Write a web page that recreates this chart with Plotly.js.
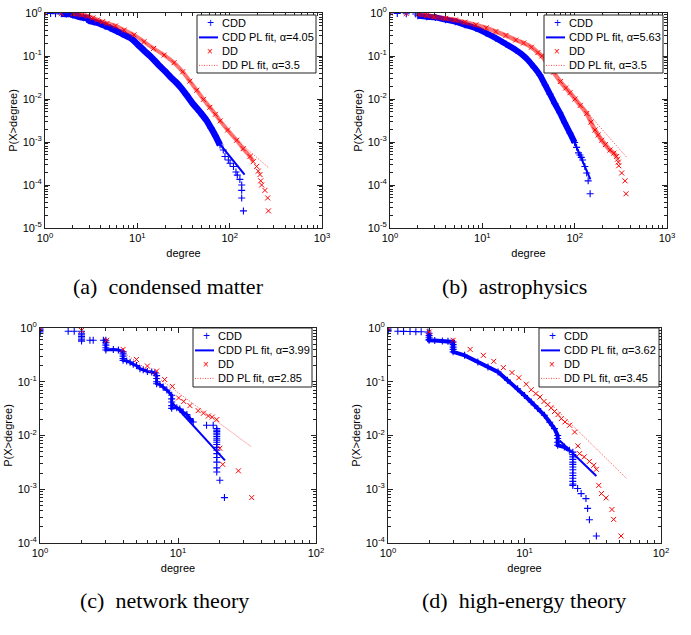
<!DOCTYPE html>
<html><head><meta charset="utf-8">
<script src="https://cdn.plot.ly/plotly-3.0.1.min.js"></script>
<style>html,body{margin:0;padding:0;background:#fff}#chart{width:691px;height:635px}</style>
</head><body><div id="chart"></div>
<script>
// ---------- (a) condensed matter ----------
const cmCddX = [1,1.15,1.3,1.5,1.7,1.9,2,2.3,2.6,2.9,3,3.4,4,4.5,5.1,6,7,8.5,10,12,14,17,20,23,26,29,34,40,48,56,63,70,78.6,85.3,89,96.7,101,110,117,121,129,135,135,135,141];
const cmCddY = [1,0.97,0.96,0.955,0.95,0.945,0.9,0.83,0.78,0.75,0.66,0.62,0.56,0.5,0.45,0.38,0.32,0.26,0.19,0.13,0.096,0.062,0.044,0.032,0.025,0.0194,0.0125,0.0078,0.0049,0.0032,0.0021,0.0014,8.5e-4,6.5e-4,4.6e-4,3.8e-4,3.2e-4,2.7e-4,2.0e-4,1.7e-4,1.35e-4,1.0e-4,7.5e-5,5e-5,2.5e-5];
const cmDdX = [1,1.5,2,2.5,2.9,3.3,3.7,4.2,4.7,5.8,7.2,9.2,11.8,15,19.5,25,31,37,44,52,61,70,79,95,119,140,166,180,196,204,213,217,222,241,258,263];
const cmDdY = [1,0.97,0.95,0.9,0.85,0.77,0.69,0.63,0.575,0.5,0.40,0.31,0.215,0.15,0.105,0.07,0.043,0.026,0.016,0.0098,0.0064,0.0044,0.0031,0.0019,0.0011,7e-4,4.6e-4,3.5e-4,2.7e-4,2.1e-4,1.75e-4,1.25e-4,1e-4,7.5e-5,5e-5,2.5e-5];
const cmCddFitX = [75, 145], cmCddFitY = [1.0e-3, 1.75e-4];
const cmDdFitX = [100, 265], cmDdFitY = [1.55e-3, 2.5e-4];
const cmAlpha = ['4.05', '3.5'];

// ---------- (b) astrophysics ----------
const apCddX = [1,1.2,1.5,1.9,2,2.5,3.1,4,5.1,6.5,8.5,11,14,18,23,27,31,36,42,48,54,61,69,78,89,100,105,110,114,118,122,129,135,140,147];
const apCddY = [1,0.97,0.96,0.95,0.86,0.82,0.79,0.7,0.63,0.53,0.44,0.34,0.26,0.19,0.138,0.108,0.082,0.056,0.036,0.021,0.013,0.0078,0.0048,0.0028,0.0016,9.7e-4,7.5e-4,5.6e-4,5e-4,4.4e-4,3.8e-4,2.7e-4,1.9e-4,1.25e-4,6.25e-5];
const apDdX = [1,1.5,2,2.5,3,4,5.1,6.5,8.5,11,14,18,23,28,34,40,44,52,59,70,80,89,101,115,135,150,166,180,196,215,241,265,285,292,297,300,323,351,360];
const apDdY = [1,0.97,0.95,0.88,0.82,0.75,0.69,0.61,0.53,0.45,0.37,0.30,0.235,0.2,0.16,0.12,0.1,0.062,0.042,0.0255,0.018,0.014,0.01,0.0071,0.0046,0.0029,0.0019,0.00146,0.0011,8.7e-4,6.5e-4,5.5e-4,4.6e-4,4e-4,3.4e-4,2.8e-4,1.9e-4,1.25e-4,6.25e-5];
const apCddFitX = [100, 148], apCddFitY = [9.5e-4, 1.35e-4];
const apDdFitX = [100, 366], apDdFitY = [0.0105, 4.4e-4];
const apAlpha = ['5.63', '3.5'];

// ---------- (c) network theory ----------
const ntCddX = [1,1,1,1,1,1.6,1.77,2,2,2,2,2,2,2,2.3,2.43,2.88,3,3,3,3,3,3.4,3.7,4,4,4,4,4,4.25,4.5,4.74,5.0,5.3,5.6,6,6.45,6.8,7,7,7,7,7.4,7.8,8.3,9,9,9,9,9,9.8,10.3,10.9,11.6,12.2,12.9,16.1,18,19.1,19.1,19.1,19.1,19.1,19.1,19.1,19.1,19.1,19.1,19.1,19.1,19.1,19.1,19.1,19.1,19.1,20.1,21.7];
const ntCddY = [1,0.95,0.9,0.85,0.8,0.87,0.87,0.87,0.8,0.75,0.7,0.65,0.6,0.57,0.59,0.59,0.59,0.59,0.53,0.48,0.43,0.39,0.40,0.39,0.36,0.33,0.3,0.27,0.25,0.243,0.23,0.211,0.2,0.175,0.168,0.155,0.152,0.146,0.13,0.115,0.1,0.092,0.0885,0.08,0.07,0.056,0.048,0.042,0.036,0.032,0.033,0.031,0.027,0.0245,0.0206,0.0178,0.0155,0.0155,0.0134,0.0125,0.0118,0.011,0.0103,0.0096,0.0089,0.0082,0.0075,0.0068,0.006,0.0053,0.0046,0.0039,0.0032,0.0025,0.0021,0.00147,0.0007];
const ntDdX = [1,2,3.04,4.0,5.0,6.0,7.0,8.0,9.1,10.1,11.0,12.2,14.0,15.3,16.6,17.7,19.1,20.1,21.1,27.4,34.2];
const ntDdY = [1,0.9,0.59,0.40,0.26,0.196,0.158,0.11,0.082,0.05,0.043,0.036,0.029,0.026,0.023,0.022,0.0198,0.0058,0.0029,0.0022,0.0007];
const ntCddFitX = [9.0, 21.9], ntCddFitY = [0.042, 3.45e-3];
const ntDdFitX = [4.0, 34.2], ntDdFitY = [0.36, 6.1e-3];
const ntAlpha = ['3.99', '2.85'];

// ---------- (d) high-energy theory ----------
const heCddX = [1,1,1,1,1.18,1.3,1.45,1.6,1.75,1.96,2,2,2,2,2,2.2,2.5,2.75,3,3,3,3,3,3.64,4.55,5.4,6.4,7.5,8.9,10,11.2,12.5,14,15.3,16.6,17.5,17.5,17.5,17.5,19.6,21.3,22.6,22.6,22.6,22.6,22.6,22.6,22.6,22.6,22.6,22.6,22.6,22.6,22.6,22.6,24.5,26,28.2,29,29.9,33.6];
const heCddY = [1,0.95,0.9,0.87,0.87,0.865,0.86,0.855,0.85,0.84,0.8,0.72,0.66,0.61,0.59,0.585,0.575,0.565,0.55,0.49,0.44,0.4,0.36,0.31,0.233,0.188,0.152,0.107,0.074,0.0555,0.042,0.0318,0.0238,0.0176,0.0134,0.01,0.0088,0.0075,0.0066,0.0061,0.0053,0.0049,0.0044,0.004,0.0036,0.0032,0.0029,0.0026,0.0023,0.002,0.0018,0.0016,0.0014,0.00125,0.00118,0.00103,0.00083,0.00067,0.00044,0.00027,0.000135];
const heDdX = [1,2.0,3.0,4.0,5.0,5.95,7.0,8.1,9.1,10.3,11.2,12.1,13.0,13.9,14.8,15.7,16.6,17.6,18.6,19.8,21.4,23.3,24.6,25.3,27.4,29.9,32.2,33.6,35,36.6,39.6,43.7,45,51];
const heDdY = [1,0.84,0.59,0.40,0.31,0.24,0.183,0.148,0.119,0.09,0.071,0.06,0.052,0.043,0.0376,0.0325,0.028,0.0245,0.0206,0.0179,0.0155,0.0116,0.0064,0.0046,0.004,0.0033,0.0028,0.00235,0.00118,0.00083,0.00069,0.00042,0.000275,0.000135];
const heCddFitX = [18.1, 33.6], heCddFitY = [8.1e-3, 1.77e-3];
const heDdFitX = [16, 56], heDdFitY = [0.036, 1.58e-3];
const heAlpha = ['3.62', '3.45'];

// ---------- labels ----------
const captions = ['(a)\u00A0\u00A0condensed matter', '(b)\u00A0\u00A0astrophysics', '(c)\u00A0\u00A0network theory', '(d)\u00A0\u00A0high-energy theory'];
const xTickVals3 = [1, 10, 100, 1000];
const xTickText3 = ['10<sup>0</sup>', '10<sup>1</sup>', '10<sup>2</sup>', '10<sup>3</sup>'];
const xTickVals2 = [1, 10, 100];
const xTickText2 = ['10<sup>0</sup>', '10<sup>1</sup>', '10<sup>2</sup>'];
const yTickVals5 = [1e-5, 1e-4, 1e-3, 1e-2, 1e-1, 1];
const yTickText5 = ['10<sup>-5</sup>', '10<sup>-4</sup>', '10<sup>-3</sup>', '10<sup>-2</sup>', '10<sup>-1</sup>', '10<sup>0</sup>'];
const yTickVals4 = [1e-4, 1e-3, 1e-2, 1e-1, 1];
const yTickText4 = ['10<sup>-4</sup>', '10<sup>-3</sup>', '10<sup>-2</sup>', '10<sup>-1</sup>', '10<sup>0</sup>'];
const xTitle = 'degree', yTitle = 'P(X>degree)';
const legendNames = ['CDD', 'CDD PL fit, \u03b1=', 'DD', 'DD PL fit, \u03b1='];

// ---------- build ----------
const W = 691, H = 635;
const FONT = 'Liberation Sans, Arial, Helvetica, sans-serif';
const BLUE = '#0000ff', RED = '#ff0000', INK = '#222';
const DOTRED = 'rgba(255,40,40,0.85)';
const X = px => px / W, Y = py => 1 - py / H;

function minorVals(lo, hi) {
  const v = [];
  for (let e = lo; e < hi; e++) for (let k = 2; k <= 9; k++) v.push(k * Math.pow(10, e));
  return v;
}
function pick(xs, ys, minX, maxX) {
  const bx = [], by = [];
  xs.forEach((v, i) => { if (v >= minX && v <= maxX) { bx.push(v); by.push(ys[i]); } });
  return [bx, by];
}

// band = [minX, maxX, width, smooth]
const panels = [
  {s: '', cdd: [cmCddX, cmCddY], dd: [cmDdX, cmDdY], cf: [cmCddFitX, cmCddFitY], df: [cmDdFitX, cmDdFitY], a: cmAlpha,
   bandB: [1.5, 78.6, 6.5, true], bandR: [2, 180, 4, true], px: [45, 322], py: [13, 228], xr: [0, 3], yr: [-5, 0],
   xt: [xTickVals3, xTickText3], yt: [yTickVals5, yTickText5], leg: [197, 15, 316, 73]},
  {s: '2', cdd: [apCddX, apCddY], dd: [apDdX, apDdY], cf: [apCddFitX, apCddFitY], df: [apDdFitX, apDdFitY], a: apAlpha,
   bandB: [2, 100, 6, true], bandR: [2, 285, 4.5, true], px: [390, 667], py: [13, 228], xr: [0, 3], yr: [-5, 0],
   xt: [xTickVals3, xTickText3], yt: [yTickVals5, yTickText5], leg: [544, 15, 663, 73]},
  {s: '3', cdd: [ntCddX, ntCddY], dd: [ntDdX, ntDdY], cf: [ntCddFitX, ntCddFitY], df: [ntDdFitX, ntDdFitY], a: ntAlpha,
   bandB: [2.88, 12.9, 3, false], bandR: null, px: [40, 316], py: [328, 543], xr: [0, 2], yr: [-4, 0],
   xt: [xTickVals2, xTickText2], yt: [yTickVals4, yTickText4], leg: [193, 328, 312, 387]},
  {s: '4', cdd: [heCddX, heCddY], dd: [heDdX, heDdY], cf: [heCddFitX, heCddFitY], df: [heDdFitX, heDdFitY], a: heAlpha,
   bandB: [2, 21.3, 4, false], bandR: null, px: [388, 661], py: [328, 543], xr: [0, 2], yr: [-4, 0],
   xt: [xTickVals2, xTickText2], yt: [yTickVals4, yTickText4], leg: [539, 328, 659, 387]}
];

const data = [];
const layout = {
  width: W, height: H, margin: {l: 0, r: 0, t: 0, b: 0},
  paper_bgcolor: '#fff', plot_bgcolor: '#fff', showlegend: false,
  font: {family: FONT, size: 11, color: '#000'},
  annotations: [], shapes: []
};

function bandTrace(common, xs, ys, b, color) {
  const [bx, by] = pick(xs, ys, b[0], b[1]);
  const line = {color: color, width: b[2]};
  if (b[3]) { line.shape = 'spline'; line.smoothing = 0.9; }
  return Object.assign({}, common, {x: bx, y: by, mode: 'lines', line: line});
}

panels.forEach((p, i) => {
  const xa = 'x' + p.s, ya = 'y' + p.s;
  const common = {xaxis: xa, yaxis: ya, type: 'scatter', hoverinfo: 'skip', showlegend: false};
  if (p.bandB) data.push(bandTrace(common, p.cdd[0], p.cdd[1], p.bandB, BLUE));
  data.push(Object.assign({}, common, {x: p.cdd[0], y: p.cdd[1], mode: 'markers', name: legendNames[0],
    marker: {symbol: 'cross-thin-open', size: 5, color: BLUE, line: {color: BLUE, width: 1.1}}}));
  data.push(Object.assign({}, common, {x: p.cf[0], y: p.cf[1], mode: 'lines', name: legendNames[1] + p.a[0],
    line: {color: BLUE, width: 2}}));
  if (p.bandR) data.push(bandTrace(common, p.dd[0], p.dd[1], p.bandR, 'rgba(255,0,0,0.55)'));
  data.push(Object.assign({}, common, {x: p.dd[0], y: p.dd[1], mode: 'markers', name: legendNames[2],
    marker: {symbol: 'x-thin-open', size: 5, color: RED, line: {color: RED, width: 1}}}));
  data.push(Object.assign({}, common, {x: p.df[0], y: p.df[1], mode: 'lines', name: legendNames[3] + p.a[1],
    line: {color: DOTRED, width: 1, dash: '1px,1.5px'}}));

  const axBase = {type: 'log', showgrid: false, zeroline: false, showline: true, linecolor: INK, linewidth: 1,
    mirror: 'ticks', ticks: 'inside', ticklen: 5, tickcolor: INK, tickwidth: 1,
    tickfont: {family: FONT, size: 11, color: '#000'}, tickmode: 'array'};
  layout['xaxis' + p.s] = Object.assign({}, axBase, {
    domain: [X(p.px[0]), X(p.px[1])], range: p.xr, anchor: ya,
    tickvals: p.xt[0], ticktext: p.xt[1],
    minor: {tickmode: 'array', tickvals: minorVals(p.xr[0], p.xr[1]), ticks: 'inside', ticklen: 3, tickcolor: INK},
    title: {text: xTitle, font: {family: FONT, size: 11, color: '#000'}, standoff: 6}
  });
  layout['yaxis' + p.s] = Object.assign({}, axBase, {
    domain: [Y(p.py[1]), Y(p.py[0])], range: p.yr, anchor: xa,
    tickvals: p.yt[0], ticktext: p.yt[1],
    minor: {tickmode: 'array', tickvals: minorVals(p.yr[0], p.yr[1]), ticks: 'inside', ticklen: 3, tickcolor: INK},
    title: {text: yTitle, font: {family: FONT, size: 11, color: '#000'}, standoff: 2}
  });

  // legend box (drawn as shapes + text)
  const [l, t, r, b] = p.leg;
  layout.shapes.push({type: 'rect', xref: 'paper', yref: 'paper', x0: X(l), x1: X(r), y0: Y(b), y1: Y(t),
    fillcolor: '#fff', line: {color: INK, width: 1}, layer: 'above'});
  const rows = [t + 8.4, t + 22.4, t + 36.4, t + 50.4];
  const names = [legendNames[0], legendNames[1] + p.a[0], legendNames[2], legendNames[3] + p.a[1]];
  layout.shapes.push({type: 'line', xref: 'paper', yref: 'paper', x0: X(l + 2), x1: X(l + 21), y0: Y(rows[1]), y1: Y(rows[1]),
    line: {color: BLUE, width: 2}, layer: 'above'});
  layout.shapes.push({type: 'line', xref: 'paper', yref: 'paper', x0: X(l + 2), x1: X(l + 21), y0: Y(rows[3]), y1: Y(rows[3]),
    line: {color: DOTRED, width: 1, dash: '1px,1.5px'}, layer: 'above'});
  layout.annotations.push({text: '+', xref: 'paper', yref: 'paper', x: X(l + 13.4), y: Y(rows[0]), xanchor: 'center', yanchor: 'middle',
    showarrow: false, font: {family: FONT, size: 12, color: BLUE}});
  layout.annotations.push({text: '\u00d7', xref: 'paper', yref: 'paper', x: X(l + 13.4), y: Y(rows[2]), xanchor: 'center', yanchor: 'middle',
    showarrow: false, font: {family: FONT, size: 10, color: RED}});
  names.forEach((n, k) => {
    layout.annotations.push({text: n, xref: 'paper', yref: 'paper', x: X(l + 22.5), y: Y(rows[k]), xanchor: 'left', yanchor: 'middle',
      showarrow: false, font: {family: FONT, size: 11, color: '#000'}});
  });
});

const capPos = [[168, 287], [514, 287], [164, 600], [524, 600]];
captions.forEach((c, i) => {
  layout.annotations.push({text: c, xref: 'paper', yref: 'paper', x: X(capPos[i][0]), y: Y(capPos[i][1]),
    xanchor: 'center', yanchor: 'middle', showarrow: false,
    font: {family: 'Liberation Serif, Times New Roman, serif', size: 22, color: '#000'}});
});

Plotly.newPlot('chart', data, layout, {displayModeBar: false, staticPlot: true});
</script></body></html>
